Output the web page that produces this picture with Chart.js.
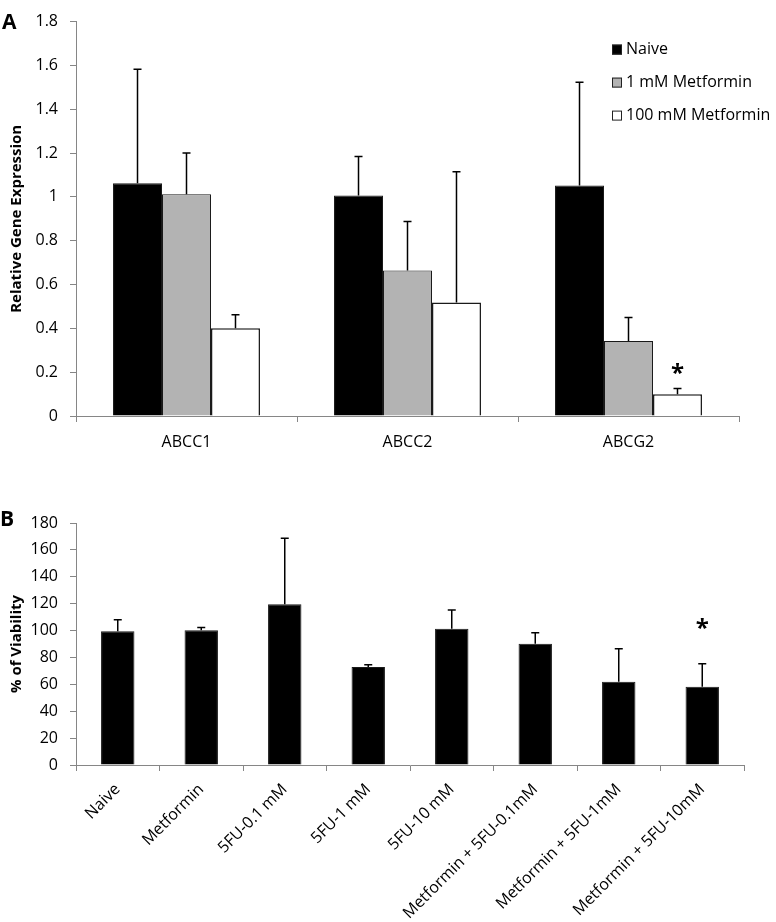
<!DOCTYPE html>
<html>
<head>
<meta charset="utf-8">
<script src="https://cdn.jsdelivr.net/npm/chart.js@4.4.1/dist/chart.umd.min.js"></script>
<style>
  body { margin: 0; background: #fff; width: 776px; height: 922px; position: relative; overflow: hidden; font-family: "Open Sans", sans-serif; }
  .panel { position: absolute; left: 0; width: 776px; }
  #wrapA { top: 0; height: 460px; }
  #wrapB { top: 470px; height: 452px; }
  .tag { position: absolute; font-weight: bold; font-size: 21px; color: #000; line-height: 1; }
</style>
</head>
<body>
<div class="panel" id="wrapA"><canvas id="chartA"></canvas></div>
<div class="panel" id="wrapB"><canvas id="chartB"></canvas></div>
<div class="tag" style="left:2px;top:11px">A</div>
<div class="tag" style="left:0px;top:508px">B</div>
<script>
// ─── DATA: panel A ─────────────────────────────────────────────────────────
const genes = ['ABCC1', 'ABCC2', 'ABCG2'];
const naive = [1.062, 1.006, 1.052];
const naiveErr = [0.52, 0.178, 0.471];
const met1 = [1.012, 0.664, 0.342];
const met1Err = [0.188, 0.224, 0.108];
const met100 = [0.40, 0.518, 0.099];
const met100Err = [0.062, 0.597, 0.027];
const met100Star = [null, null, 0.21];
const geneTicks = [0, 0.2, 0.4, 0.6, 0.8, 1, 1.2, 1.4, 1.6, 1.8];

// ─── DATA: panel B ─────────────────────────────────────────────────────────
const treatments = ['Naive', 'Metformin', '5FU-0.1 mM', '5FU-1 mM', '5FU-10 mM',
  'Metformin + 5FU-0.1mM', 'Metformin + 5FU-1mM', 'Metformin + 5FU-10mM'];
const viability = [99.5, 100.2, 119.6, 72.8, 101.3, 90.1, 61.9, 58.2];
const viabilityErr = [8.5, 2.1, 49, 1.7, 13.9, 8.2, 24.5, 17.1];
const viabilityStar = [null, null, null, null, null, null, null, 104];
const viabilityTicks = [0, 20, 40, 60, 80, 100, 120, 140, 160, 180];

const AXIS = '#868686';
const FONT = '"Open Sans", sans-serif';

// error bars (upper only) + significance stars
const errorBars = {
  id: 'errorBars',
  afterDatasetsDraw(chart) {
    const { ctx } = chart;
    const y = chart.scales.y;
    chart.data.datasets.forEach((ds, i) => {
      const meta = chart.getDatasetMeta(i);
      meta.data.forEach((bar, j) => {
        const v = ds.data[j];
        if (ds.errors) {
          const top = y.getPixelForValue(v + ds.errors[j]);
          const base = y.getPixelForValue(v);
          ctx.save();
          ctx.strokeStyle = '#000';
          ctx.lineWidth = 1.5;
          ctx.beginPath();
          ctx.moveTo(bar.x, base);
          ctx.lineTo(bar.x, top);
          ctx.moveTo(bar.x - 4, top);
          ctx.lineTo(bar.x + 4, top);
          ctx.stroke();
          ctx.restore();
        }
        if (ds.stars && ds.stars[j] != null) {
          ctx.save();
          ctx.fillStyle = '#000';
          ctx.font = 'bold 24px ' + FONT;
          ctx.textAlign = 'center';
          ctx.textBaseline = 'middle';
          ctx.fillText('*', bar.x, y.getPixelForValue(ds.stars[j]) + 4);
          ctx.restore();
        }
      });
    });
  }
};

// legend drawn inside the plot, top right
const boxLegend = {
  id: 'boxLegend',
  afterDraw(chart) {
    const { ctx, chartArea } = chart;
    const x0 = chartArea.right - 127;
    ctx.save();
    ctx.font = '16px ' + FONT;
    ctx.textBaseline = 'middle';
    chart.data.datasets.forEach((ds, i) => {
      const cy = chartArea.top + 28 + i * 33;
      ctx.fillStyle = ds.backgroundColor;
      ctx.fillRect(x0, cy - 5, 10, 10);
      ctx.strokeStyle = '#222';
      ctx.lineWidth = 1;
      ctx.strokeRect(x0 + 0.5, cy - 4.5, 9, 9);
      ctx.fillStyle = '#000';
      ctx.fillText(ds.label, x0 + 14, cy);
    });
    ctx.restore();
  }
};

function axes(yTitle, yMax, ticks, xHeight, rotate) {
  return {
    x: {
      grid: { display: true, drawOnChartArea: false, offset: true, tickLength: 6, color: AXIS },
      border: { color: AXIS, width: 1 },
      ticks: {
        color: '#000', font: { family: FONT, size: 16 }, autoSkip: false,
        padding: rotate ? 9 : 11, minRotation: rotate, maxRotation: rotate
      },
      afterFit: s => { s.height = xHeight; }
    },
    y: {
      min: 0, max: yMax,
      grid: { display: true, drawOnChartArea: false, tickLength: 6, color: AXIS },
      border: { color: AXIS, width: 1 },
      afterBuildTicks: s => { s.ticks = ticks.map(v => ({ value: v })); },
      ticks: { color: '#000', font: { family: FONT, size: 16 }, padding: 12, callback: v => String(v) },
      title: { display: true, text: yTitle, color: '#000', font: { family: FONT, size: 15, weight: 'bold' }, padding: { top: 8, bottom: 0 } },
      afterFit: s => { s.width = 76; }
    }
  };
}

new Chart(document.getElementById('chartA'), {
  type: 'bar',
  data: {
    labels: genes,
    datasets: [
      { label: 'Naive', data: naive, errors: naiveErr, backgroundColor: '#000000', borderColor: '#1a1a1a', borderWidth: 1 },
      { label: '1 mM Metformin', data: met1, errors: met1Err, backgroundColor: '#b3b3b3', borderColor: '#1a1a1a', borderWidth: 1 },
      { label: '100 mM Metformin', data: met100, errors: met100Err, stars: met100Star, backgroundColor: '#ffffff', borderColor: '#1a1a1a', borderWidth: 1.5 }
    ]
  },
  options: {
    responsive: true, maintainAspectRatio: false, animation: false,
    layout: { padding: { left: 0, top: 12, right: 37, bottom: 0 } },
    categoryPercentage: 0.665, barPercentage: 1,
    plugins: { legend: { display: false }, tooltip: { enabled: false } },
    scales: axes('Relative Gene Expression', 1.8, geneTicks, 44, 0)
  },
  plugins: [errorBars, boxLegend]
});

new Chart(document.getElementById('chartB'), {
  type: 'bar',
  data: {
    labels: treatments,
    datasets: [
      { label: '% of Viability', data: viability, errors: viabilityErr, stars: viabilityStar, backgroundColor: '#000000', borderColor: '#1a1a1a', borderWidth: 1 }
    ]
  },
  options: {
    responsive: true, maintainAspectRatio: false, animation: false,
    layout: { padding: { left: 0, top: 53, right: 32, bottom: 0 } },
    categoryPercentage: 0.4, barPercentage: 1,
    plugins: { legend: { display: false }, tooltip: { enabled: false } },
    scales: axes('% of Viability', 180, viabilityTicks, 157, 45)
  },
  plugins: [errorBars]
});
</script>
</body>
</html>
